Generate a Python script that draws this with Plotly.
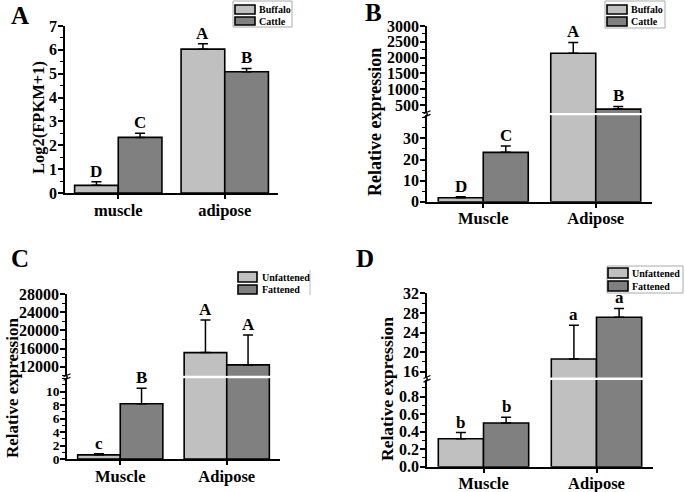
import plotly.graph_objects as go

W, H = 685, 492
LIGHT = "#c0c0c0"
DARK = "#808080"
FONT = "Liberation Serif"

# ---------------- data ----------------
a_categories = ["muscle", "adipose"]
a_series = ["Buffalo", "Cattle"]
a_s1 = [0.32, 6.03]
a_s1_err = [0.15, 0.23]
a_s2 = [2.33, 5.08]
a_s2_err = [0.17, 0.14]
a_s1_letters = ["D", "A"]
a_s2_letters = ["C", "B"]
a_yticks = [0, 1, 2, 3, 4, 5, 6, 7]

b_categories = ["Muscle", "Adipose"]
b_series = ["Buffalo", "Cattle"]
b_s1 = [1.9, 2140]
b_s1_err = [0.5, 340]
b_s2 = [23.4, 370]
b_s2_err = [3.0, 85]
b_s1_letters = ["D", "A"]
b_s2_letters = ["C", "B"]
b_lower_ticks = [0, 10, 20, 30]
b_upper_ticks = [500, 1000, 1500, 2000, 2500, 3000]

c_categories = ["Muscle", "Adipose"]
c_series = ["Unfattened", "Fattened"]
c_s1 = [0.62, 15100]
c_s1_err = [0.15, 7200]
c_s2 = [8.2, 12400]
c_s2_err = [2.3, 6600]
c_s1_letters = ["c", "A"]
c_s2_letters = ["B", "A"]
c_lower_ticks = [0, 2, 4, 6, 8, 10]
c_upper_ticks = [12000, 16000, 20000, 24000, 28000]

d_categories = ["Muscle", "Adipose"]
d_series = ["Unfattened", "Fattened"]
d_s1 = [0.32, 18.6]
d_s1_err = [0.07, 6.9]
d_s2 = [0.50, 27.1]
d_s2_err = [0.065, 1.8]
d_s1_letters = ["b", "a"]
d_s2_letters = ["b", "a"]
d_lower_ticks = [0.0, 0.2, 0.4, 0.6, 0.8]
d_upper_ticks = [16, 20, 24, 28, 32]


def px(x):
    return x / W


def py(y):
    return 1 - y / H


fig = go.Figure()
shapes = []
annotations = []

AXLINE = dict(showline=True, linecolor="black", linewidth=1.6, showgrid=False,
              zeroline=False, ticks="outside", tickcolor="black", tickwidth=1.5,
              automargin=False)


def add_panel(n, cats, series, s1, e1, s2, e2, l1, l2, xdom, bw,
              lower, upper=None, title="", title_pos=(0, 0), title_size=16,
              label="", label_pos=(0, 0), legend=None, tick_size=16):
    xname = "x" if n == 1 else "x%d" % n
    xkey = "xaxis" if n == 1 else "xaxis%d" % n
    ylow_idx = 1 if n == 1 else 2 * n - 2
    yname_low = "y" if ylow_idx == 1 else "y%d" % ylow_idx
    ykey_low = "yaxis" if ylow_idx == 1 else "yaxis%d" % ylow_idx
    xpos = list(range(len(cats)))

    segs = [(yname_low, ykey_low, lower)]
    if upper is not None:
        yup_idx = 2 * n - 1
        segs.append(("y%d" % yup_idx, "yaxis%d" % yup_idx, upper))

    lay = {}
    lay[xkey] = dict(domain=[px(xdom[0]), px(xdom[1])], range=[-0.5, len(cats) - 0.5],
                     anchor=yname_low, tickvals=xpos, ticktext=cats, ticklen=4,
                     ticklabelstandoff=-3,
                     tickfont=dict(family=FONT, size=16.5, color="black", weight="bold"),
                     **AXLINE)

    for si, (yname, ykey, seg) in enumerate(segs):
        lo, hi = seg["range"]
        for vals, errs, color, offs, name in ((s1, e1, LIGHT, -bw, series[0]),
                                              (s2, e2, DARK, 0.0, series[1])):
            err_arr = [e if (lo <= v + e <= hi or (si == 0 and v <= hi)) else 0
                       for v, e in zip(vals, errs)]
            fig.add_trace(go.Bar(
                x=xpos, y=vals, width=bw, offset=offs, name=name,
                marker=dict(color=color, line=dict(color="black", width=1.6)),
                error_y=dict(type="data", symmetric=False, array=err_arr,
                             arrayminus=[0] * len(vals), color="black",
                             thickness=1.5, width=5),
                xaxis=xname, yaxis=yname, showlegend=False))
        lay[ykey] = dict(domain=[py(seg["dom"][1]), py(seg["dom"][0])], range=[lo, hi],
                         anchor=xname, tickvals=seg["ticks"], ticklen=5,
                         ticklabelstandoff=-2,
                         tickformat=seg.get("fmt", "d"),
                         tickfont=dict(family=FONT, size=seg.get("fs", tick_size),
                                       color="black", weight="bold"),
                         minor=dict(dtick=seg["minor"], ticklen=3, ticks="outside",
                                    tickcolor="black", tickwidth=1.2),
                         **AXLINE)

    fig.update_layout(**lay)

    # significance letters
    for vals, errs, letters, sign in ((s1, e1, l1, -1), (s2, e2, l2, 1)):
        for i, (v, e, t) in enumerate(zip(vals, errs, letters)):
            yref = segs[0][0]
            if upper is not None and v > lower["range"][1]:
                yref = segs[1][0]
            annotations.append(dict(x=i + sign * bw / 2, y=v + e, xref=xname, yref=yref,
                                    text="<b>%s</b>" % t, showarrow=False,
                                    yanchor="bottom", yshift=-1,
                                    font=dict(family=FONT, size=17, color="black")))

    # axis break marks
    if upper is not None:
        ax = xdom[0]
        ytop_low = lower["dom"][0]
        ybot_up = upper["dom"][1]
        shapes.append(dict(type="line", xref="paper", yref="paper",
                           x0=px(ax), x1=px(ax), y0=py(ytop_low), y1=py(ybot_up),
                           line=dict(color="black", width=1.6)))
        ym = (ytop_low + ybot_up) / 2
        for k in (-1.8, 1.8):
            shapes.append(dict(type="line", xref="paper", yref="paper",
                               x0=px(ax - 3.5), x1=px(ax + 3.5),
                               y0=py(ym + k + 1.5), y1=py(ym + k - 1.5),
                               line=dict(color="black", width=1.2)))

    # y title
    annotations.append(dict(x=px(title_pos[0]), y=py(title_pos[1]), xref="paper", yref="paper",
                            text="<b>%s</b>" % title, textangle=-90, showarrow=False,
                            xanchor="center", yanchor="middle",
                            font=dict(family=FONT, size=title_size, color="black")))
    # panel label
    annotations.append(dict(x=px(label_pos[0]), y=py(label_pos[1]), xref="paper", yref="paper",
                            text="<b>%s</b>" % label, showarrow=False,
                            xanchor="center", yanchor="middle",
                            font=dict(family=FONT, size=25, color="black")))

    # legend drawn as boxes
    if legend is not None:
        if legend.get("border"):
            bx0, by0, bx1, by1 = legend["border"]
            shapes.append(dict(type="rect", xref="paper", yref="paper",
                               x0=px(bx0), x1=px(bx1), y0=py(by1), y1=py(by0),
                               line=dict(color="#aaaaaa", width=1), fillcolor="white"))
        if legend.get("rline"):
            rx, ry0, ry1 = legend["rline"]
            shapes.append(dict(type="line", xref="paper", yref="paper",
                               x0=px(rx), x1=px(rx), y0=py(ry0), y1=py(ry1),
                               line=dict(color="#bbbbbb", width=1)))
        lx0, lx1 = legend["box_x"]
        for (yy0, yy1), color, name in zip(legend["box_y"], (LIGHT, DARK), series):
            shapes.append(dict(type="rect", xref="paper", yref="paper",
                               x0=px(lx0), x1=px(lx1), y0=py(yy1), y1=py(yy0),
                               line=dict(color="black", width=1.6), fillcolor=color))
            annotations.append(dict(x=px(legend["text_x"]), y=py((yy0 + yy1) / 2),
                                    xref="paper", yref="paper", text="<b>%s</b>" % name,
                                    showarrow=False, xanchor="left", yanchor="middle",
                                    font=dict(family=FONT, size=10, color="black")))


add_panel(1, a_categories, a_series, a_s1, a_s1_err, a_s2, a_s2_err, a_s1_letters, a_s2_letters,
          xdom=(65, 278), bw=0.41,
          lower=dict(dom=(26, 193), range=[0, 7], ticks=a_yticks, minor=0.5),
          title="Log2(FPKM+1)", title_pos=(38, 118), title_size=16.5,
          label="A", label_pos=(20, 16),
          legend=dict(border=(233, 1, 292, 27), box_x=(235, 255),
                      box_y=((5, 14), (17, 25)), text_x=257))

add_panel(2, b_categories, b_series, b_s1, b_s1_err, b_s2, b_s2_err, b_s1_letters, b_s2_letters,
          xdom=(427, 652), bw=0.40,
          lower=dict(dom=(115.2, 201.7), range=[0, 41], ticks=b_lower_ticks, minor=5),
          upper=dict(dom=(26, 112.9), range=[250, 3000], ticks=b_upper_ticks, minor=250),
          title="Relative expression", title_pos=(375, 122), title_size=18,
          label="B", label_pos=(373, 13),
          legend=dict(border=(605, 1, 665, 28), box_x=(607, 627),
                      box_y=((5, 14), (17, 26)), text_x=629))

add_panel(3, c_categories, c_series, c_s1, c_s1_err, c_s2, c_s2_err, c_s1_letters, c_s2_letters,
          xdom=(67, 280), bw=0.40,
          lower=dict(dom=(378.2, 459), range=[0, 12], ticks=c_lower_ticks, minor=1, fs=13.5),
          upper=dict(dom=(294, 375.8), range=[10000, 28000], ticks=c_upper_ticks, minor=2000),
          title="Relative expression", title_pos=(12, 388), title_size=17,
          label="C", label_pos=(20, 258),
          legend=dict(rline=(310, 270, 295), box_x=(238, 257),
                      box_y=((272, 282), (285, 294)), text_x=260))

add_panel(4, d_categories, d_series, d_s1, d_s1_err, d_s2, d_s2_err, d_s1_letters, d_s2_letters,
          xdom=(427, 653), bw=0.40,
          lower=dict(dom=(380.1, 466.7), range=[0, 0.99], ticks=d_lower_ticks, minor=0.1, fmt=".1f"),
          upper=dict(dom=(293.3, 377.6), range=[14.8, 32], ticks=d_upper_ticks, minor=2),
          title="Relative expression", title_pos=(387, 389), title_size=17.5,
          label="D", label_pos=(365, 258),
          legend=dict(border=(607, 266, 683, 293), box_x=(608, 628),
                      box_y=((268, 278), (281, 291)), text_x=630))

fig.update_layout(width=W, height=H, margin=dict(l=0, r=0, t=0, b=0, autoexpand=False),
                  plot_bgcolor="white", paper_bgcolor="white",
                  showlegend=False, barmode="overlay",
                  shapes=shapes, annotations=annotations)

fig.write_html("out.html", config={"displayModeBar": False},
               post_script="document.body.style.margin='0px';")
